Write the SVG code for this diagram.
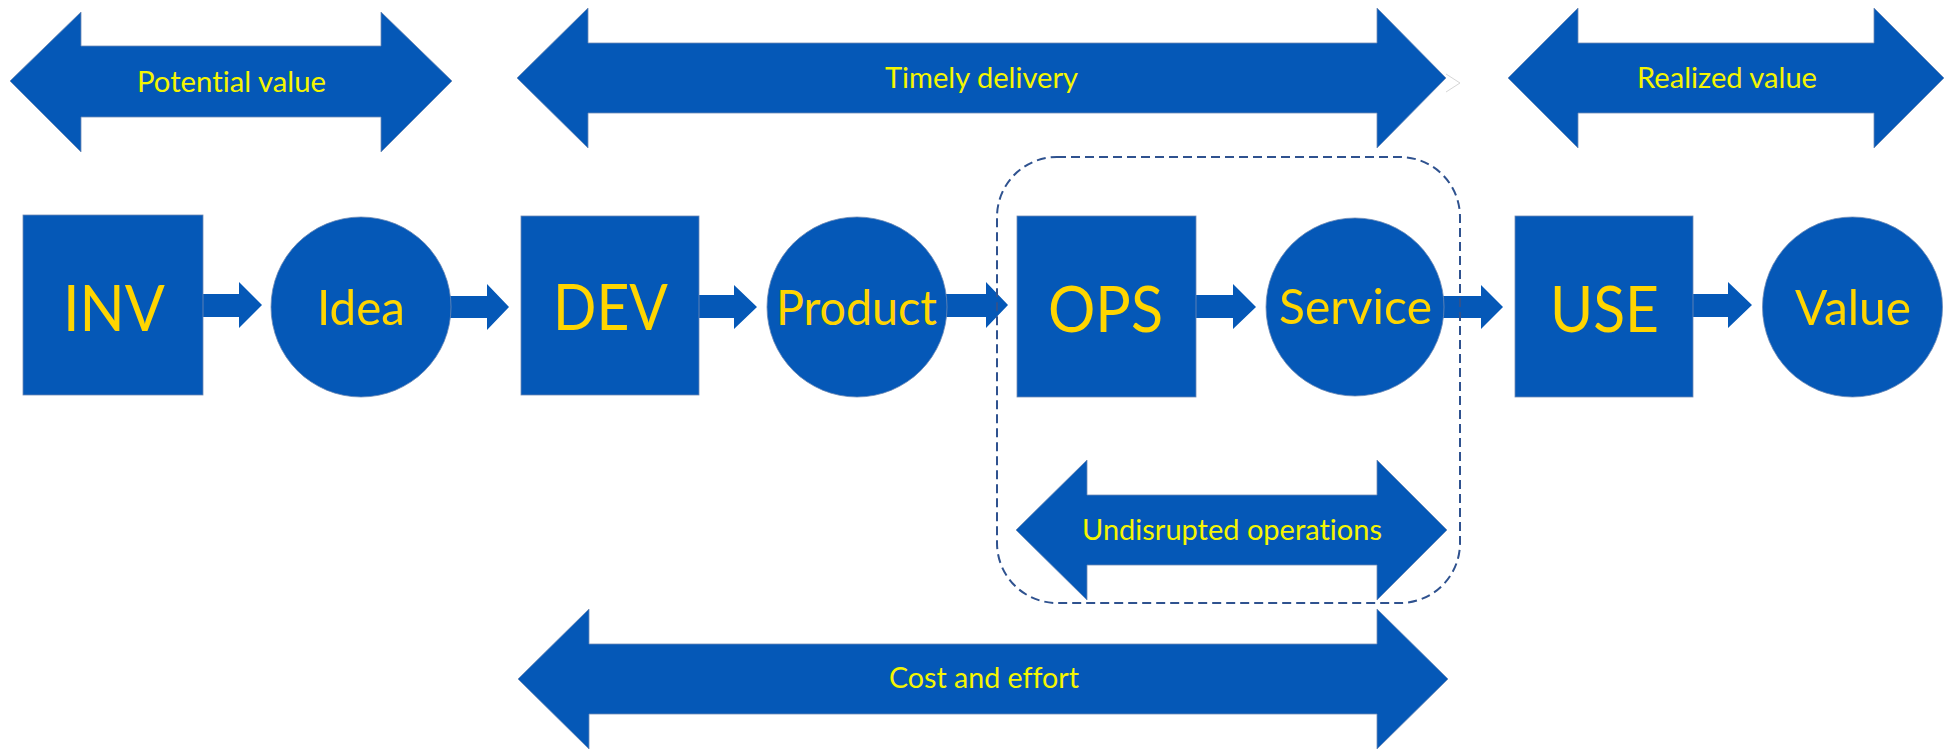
<svg xmlns="http://www.w3.org/2000/svg" width="1952" height="749" viewBox="0 0 1952 749">
  <style>
    text { font-variant-ligatures: none; font-feature-settings: "liga" 0, "dlig" 0; }
    .shape { fill: #0558B7; stroke: #6f8ab5; stroke-width: 0.8; }
    .node-big { font-family: Lato, "Open Sans", "Liberation Sans", sans-serif; font-size: 64px; fill: #FFD500; text-anchor: middle; }
    .node-small { font-family: Lato, "Open Sans", "Liberation Sans", sans-serif; font-size: 49px; fill: #FFD500; text-anchor: middle; }
    .span-label { font-family: Lato, "Open Sans", "Liberation Sans", sans-serif; font-size: 28px; fill: #F5F500; text-anchor: middle; }
    .conn { fill: #0558B7; }
    .boundary { fill: none; stroke: #2F528F; stroke-width: 2; stroke-dasharray: 9 5; }
  </style>

  <!-- Span arrows -->
  <g id="potential-value">
    <polygon class="shape" points="10,81 81,12 81,46 381,46 381,12 452,81 381,152 381,117 81,117 81,152"/>
    <text class="span-label" x="231.5" y="92" textLength="189" lengthAdjust="spacingAndGlyphs">Potential value</text>
  </g>
  <g id="timely-delivery">
    <polygon class="shape" points="517,78 588,8 588,43 1377,43 1377,8 1446,78 1377,148 1377,113 588,113 588,148"/>
    <polyline points="1446,74 1460,83 1446,92" fill="none" stroke="#d6d6d6" stroke-width="1"/>
    <text class="span-label" x="981.5" y="88" textLength="193" lengthAdjust="spacingAndGlyphs">Timely delivery</text>
  </g>
  <g id="realized-value">
    <polygon class="shape" points="1508,78 1578,8 1578,43 1874,43 1874,8 1944,78 1874,148 1874,113 1578,113 1578,148"/>
    <text class="span-label" x="1727" y="88" textLength="180" lengthAdjust="spacingAndGlyphs">Realized value</text>
  </g>
  <g id="undisrupted-operations">
    <polygon class="shape" points="1016,530 1087,460 1087,495 1377,495 1377,460 1447,530 1377,600 1377,565 1087,565 1087,600"/>
    <text class="span-label" x="1232" y="540" textLength="300" lengthAdjust="spacingAndGlyphs">Undisrupted operations</text>
  </g>
  <g id="cost-and-effort">
    <polygon class="shape" points="518,679 589,609 589,644 1377,644 1377,609 1448,679 1377,749 1377,714 589,714 589,749"/>
    <text class="span-label" x="984" y="688" textLength="190" lengthAdjust="spacingAndGlyphs">Cost and effort</text>
  </g>

  <!-- Flow connectors -->
  <g id="connectors">
    <polygon class="conn" points="202,294 239,294 239,282 262,305 239,328 239,317 202,317"/>
    <polygon class="conn" points="449,296 487,296 487,284 509,307 487,330 487,318 449,318"/>
    <polygon class="conn" points="698,295 734,295 734,285 757,307 734,329 734,318 698,318"/>
    <polygon class="conn" points="946,294 986,294 986,282 1008,305 986,328 986,317 946,317"/>
    <polygon class="conn" points="1195,295 1233,295 1233,284 1256,307 1233,329 1233,318 1195,318"/>
    <polygon class="conn" points="1443,296 1481,296 1481,285 1503,307 1481,329 1481,318 1443,318"/>
    <polygon class="conn" points="1692,294 1728,294 1728,282 1752,305 1728,328 1728,317 1692,317"/>
  </g>

  <!-- Stage nodes -->
  <g id="inv">
    <rect class="shape" x="23" y="215" width="180" height="180"/>
    <text class="node-big" x="114" y="331" textLength="102" lengthAdjust="spacingAndGlyphs">INV</text>
  </g>
  <g id="idea">
    <circle class="shape" cx="361" cy="307" r="90"/>
    <text class="node-small" x="361" y="325" textLength="88" lengthAdjust="spacingAndGlyphs">Idea</text>
  </g>
  <g id="dev">
    <rect class="shape" x="521" y="216" width="178" height="179"/>
    <text class="node-big" x="610.5" y="330" textLength="115" lengthAdjust="spacingAndGlyphs">DEV</text>
  </g>
  <g id="product">
    <circle class="shape" cx="857" cy="307" r="90"/>
    <text class="node-small" x="856.5" y="325" textLength="161" lengthAdjust="spacingAndGlyphs">Product</text>
  </g>
  <g id="ops">
    <rect class="shape" x="1017" y="216" width="179" height="181"/>
    <text class="node-big" x="1105.5" y="332" textLength="115" lengthAdjust="spacingAndGlyphs">OPS</text>
  </g>
  <g id="service">
    <circle class="shape" cx="1355" cy="307" r="89"/>
    <text class="node-small" x="1355.5" y="324" textLength="153" lengthAdjust="spacingAndGlyphs">Service</text>
  </g>
  <g id="use">
    <rect class="shape" x="1515" y="216" width="178" height="181"/>
    <text class="node-big" x="1604.5" y="332" textLength="109" lengthAdjust="spacingAndGlyphs">USE</text>
  </g>
  <g id="value">
    <circle class="shape" cx="1852.5" cy="307" r="90"/>
    <text class="node-small" x="1853" y="325" textLength="116" lengthAdjust="spacingAndGlyphs">Value</text>
  </g>

  <!-- Operations boundary -->
  <g id="ops-boundary">
    <rect class="boundary" x="997" y="157" width="463" height="446" rx="60" ry="60"/>
  </g>
</svg>
